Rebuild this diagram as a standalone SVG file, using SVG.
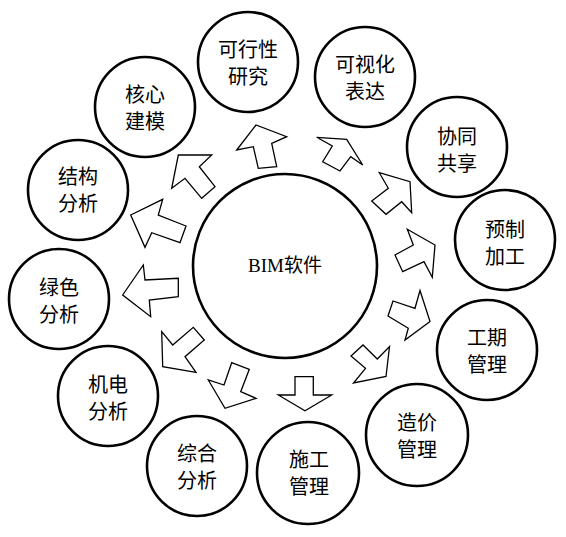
<svg xmlns="http://www.w3.org/2000/svg" width="566" height="537" viewBox="0 0 566 537">
<style>
.node circle{fill:#fff;stroke:#000;stroke-width:2.6}
.node text{font-family:"Noto Sans CJK SC","Liberation Sans",sans-serif;font-size:20px;text-anchor:middle;fill:#000}
.center text{font-family:"Liberation Serif","Noto Sans CJK SC",serif;font-size:19px;text-anchor:middle;fill:#000}
.arrows polygon{fill:#fff;stroke:#000;stroke-width:1.3;stroke-linejoin:miter}
</style>
<rect width="566" height="537" fill="#fff"/>
<g id="center" class="node center">
<circle cx="285" cy="266" r="92" stroke-width="3"/>
<text x="285" y="272">BIM软件</text>
</g>
<g id="connectors" class="arrows">
<polygon points="236.7,150 256,125 286.7,136.7 271.7,143.3 276.7,166.7 258.3,168.3 253.3,146.7"/>
<polygon points="316.7,137.3 346.7,139.3 362.7,165 350.7,156.7 340,171 322.7,161.7 332.3,146"/>
<polygon points="379.3,172.7 410,181.7 411.7,212.7 401.7,201.7 386,214.3 371.7,201 388.3,188.3"/>
<polygon points="407.3,229.3 435,245 432.3,277.3 424,261.7 402.7,271.7 395,255 413.3,245"/>
<polygon points="420,290.5 430,321.5 405,340 408.3,328.3 388,316 393,301 415,308.3"/>
<polygon points="351,356 363,345 377.3,359 389.5,346.5 386,376.5 353.5,383 365.5,368.3"/>
<polygon points="295,376.7 313.3,376.7 313.3,395 331.7,395 305,410.7 278.3,395 295,395"/>
<polygon points="231.7,362.7 249.3,369.3 240.7,391.7 256,398.3 225,408.3 208.3,380 224,385"/>
<polygon points="161.7,331.7 172.7,345 193.3,327.3 204.3,340 185,356.7 196,372.3 162.7,366.7"/>
<polygon points="143.3,265 145,280 178.3,278.3 178.3,296.7 149.3,300 150.7,316.7 122.7,295"/>
<polygon points="130.7,215 162.7,199.3 158.3,215 186,226 180,242.7 151.7,232.7 145,247.3"/>
<polygon points="178.3,155 211.7,155 199.3,166.7 215,186.7 201.7,198.3 185,178.3 171.7,188.3"/>
</g>
<g id="n1" class="node"><circle cx="248" cy="62" r="50"/><text x="248" y="57">可行性</text><text x="248" y="84">研究</text></g>
<g id="n2" class="node"><circle cx="365" cy="77" r="50"/><text x="365" y="72">可视化</text><text x="365" y="99">表达</text></g>
<g id="n3" class="node"><circle cx="457" cy="147" r="50"/><text x="457" y="144">协同</text><text x="457" y="171">共享</text></g>
<g id="n4" class="node"><circle cx="505" cy="240" r="50"/><text x="505" y="237">预制</text><text x="505" y="264">加工</text></g>
<g id="n5" class="node"><circle cx="487" cy="350" r="50"/><text x="487" y="345">工期</text><text x="487" y="372">管理</text></g>
<g id="n6" class="node"><circle cx="417" cy="435" r="51"/><text x="417" y="430">造价</text><text x="417" y="457">管理</text></g>
<g id="n7" class="node"><circle cx="308" cy="473" r="51"/><text x="309" y="467">施工</text><text x="309" y="494">管理</text></g>
<g id="n8" class="node"><circle cx="197" cy="466" r="50"/><text x="197" y="461">综合</text><text x="197" y="488">分析</text></g>
<g id="n9" class="node"><circle cx="108" cy="396" r="50"/><text x="108" y="392">机电</text><text x="108" y="419">分析</text></g>
<g id="n10" class="node"><circle cx="59" cy="299" r="50"/><text x="59" y="295">绿色</text><text x="59" y="322">分析</text></g>
<g id="n11" class="node"><circle cx="78" cy="190" r="50"/><text x="78" y="184">结构</text><text x="78" y="211">分析</text></g>
<g id="n12" class="node"><circle cx="145" cy="107" r="50"/><text x="145" y="102">核心</text><text x="145" y="129">建模</text></g>
</svg>
